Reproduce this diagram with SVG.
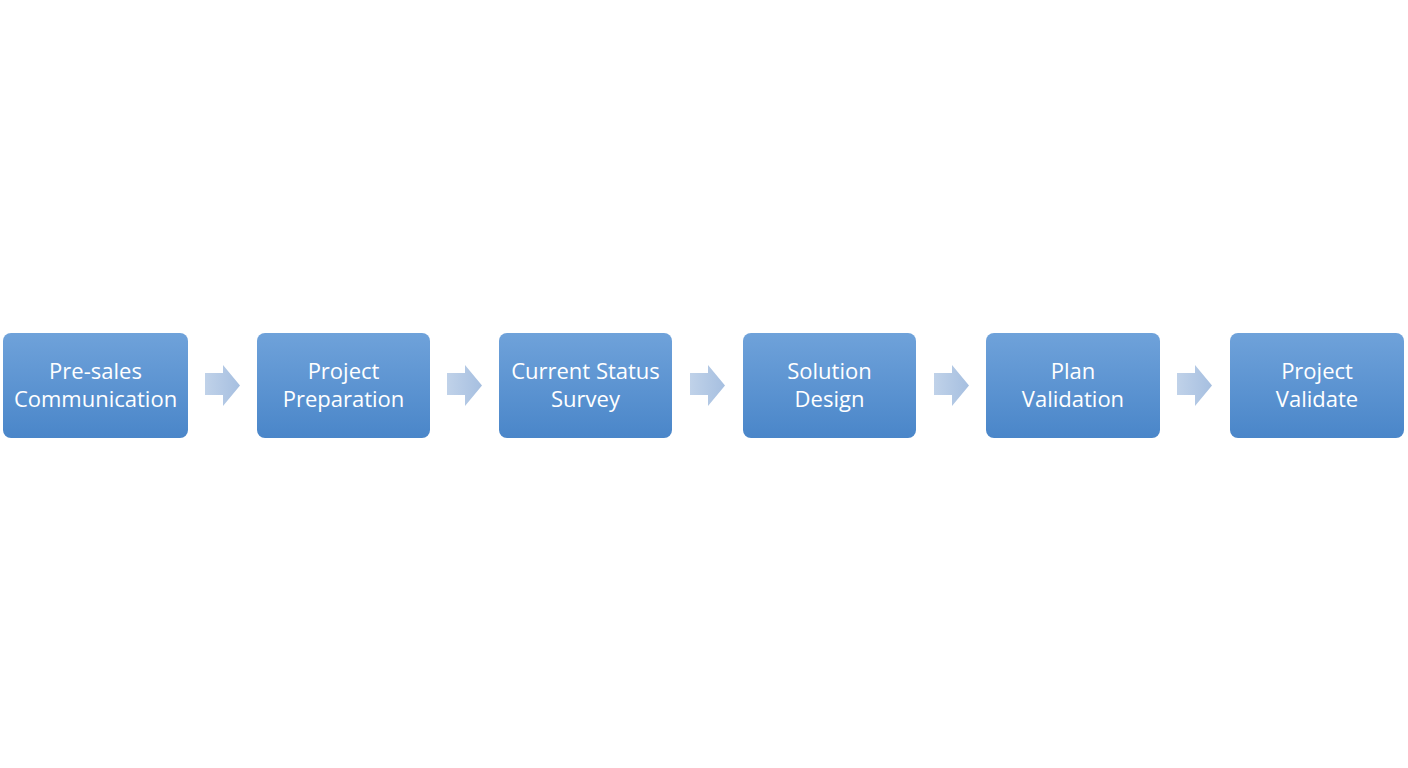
<svg xmlns="http://www.w3.org/2000/svg" width="1408" height="768" viewBox="0 0 1408 768">
<style>
.box{fill:url(#bg);}
.lbl{font-family:"Open Sans","Noto Sans",sans-serif;font-size:22px;fill:#ffffff;text-anchor:middle;}
.arr{fill:url(#ag);}
</style>
<defs>
<linearGradient id="bg" x1="0" y1="0" x2="0" y2="1">
<stop offset="0" stop-color="#6fa2da"/>
<stop offset="1" stop-color="#4a86c9"/>
</linearGradient>
<linearGradient id="ag" x1="0" y1="0" x2="1" y2="0">
<stop offset="0" stop-color="#c0d2e9"/>
<stop offset="1" stop-color="#a6bfe0"/>
</linearGradient>
<path id="arrow" d="M0,8 H18 V0 L35,20.5 L18,41 V30 H0 Z"/>
</defs>
<rect width="1408" height="768" fill="#ffffff"/>
<g id="connectors">
<use href="#arrow" class="arr" x="205" y="365"/>
<use href="#arrow" class="arr" x="447" y="365"/>
<use href="#arrow" class="arr" x="690" y="365"/>
<use href="#arrow" class="arr" x="934" y="365"/>
<use href="#arrow" class="arr" x="1177" y="365"/>
</g>
<g id="n1"><rect class="box" x="3" y="333" width="185" height="105" rx="8"/><text class="lbl" x="95.5" y="379">Pre-sales</text><text class="lbl" x="95.5" y="407">Communication</text></g>
<g id="n2"><rect class="box" x="257" y="333" width="173" height="105" rx="8"/><text class="lbl" x="343.5" y="379">Project</text><text class="lbl" x="343.5" y="407">Preparation</text></g>
<g id="n3"><rect class="box" x="499" y="333" width="173" height="105" rx="8"/><text class="lbl" x="585.5" y="379">Current Status</text><text class="lbl" x="585.5" y="407">Survey</text></g>
<g id="n4"><rect class="box" x="743" y="333" width="173" height="105" rx="8"/><text class="lbl" x="829.5" y="379">Solution</text><text class="lbl" x="829.5" y="407">Design</text></g>
<g id="n5"><rect class="box" x="986" y="333" width="174" height="105" rx="8"/><text class="lbl" x="1073" y="379">Plan</text><text class="lbl" x="1073" y="407">Validation</text></g>
<g id="n6"><rect class="box" x="1230" y="333" width="174" height="105" rx="8"/><text class="lbl" x="1317" y="379">Project</text><text class="lbl" x="1317" y="407">Validate</text></g>
</svg>
